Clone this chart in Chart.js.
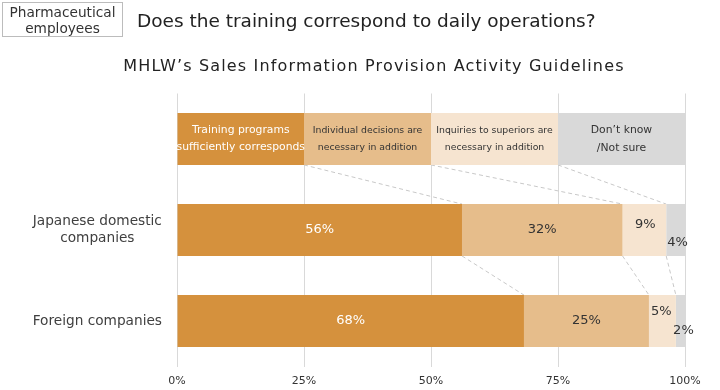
<!DOCTYPE html>
<html>
<head>
<meta charset="utf-8">
<script src="https://cdn.jsdelivr.net/npm/chart.js@4"></script>
<style>
  body { margin: 0; background: #fff; font-family: "DejaVu Sans", sans-serif; }
  .wrap { position: relative; width: 720px; height: 390px; }
  .tag {
    position: absolute; left: 2px; top: 2px; width: 121px; height: 35px;
    border: 1px solid #bcbcbc; font-size: 13.7px; line-height: 16px; color: #333;
    text-align: center; box-sizing: border-box; padding-top: 1px;
  }
  .title { position: absolute; left: 137px; top: 10px; font-size: 18.5px; color: #222; white-space: nowrap; }
  .subtitle { position: absolute; left: 0; width: 748px; top: 56px; font-size: 16px; letter-spacing: 1.15px; color: #222; text-align: center; white-space: nowrap; }
  canvas { position: absolute; left: 0; top: 0; }
</style>
</head>
<body>
<div class="wrap">
  <canvas id="myChart" width="720" height="390"></canvas>
  <div class="tag">Pharmaceutical<br>employees</div>
  <div class="title">Does the training correspond to daily operations?</div>
  <div class="subtitle">MHLW’s Sales Information Provision Activity Guidelines</div>
</div>
<script>
const categories = ['', ['Japanese domestic', 'companies'], 'Foreign companies'];
const seriesNames = [
  ['Training programs', 'sufficiently corresponds'],
  ['Individual decisions are', 'necessary in addition'],
  ['Inquiries to superiors are', 'necessary in addition'],
  ['Don’t know', '/Not sure'],
];
const sufficient = [25, 56.1, 68.3];
const individual = [25, 31.6, 24.6];
const inquiries = [25, 8.6, 5.3];
const dontKnow = [25, 3.7, 1.8];
const xTicks = [0, 25, 50, 75, 100];

const colors = ['#D5913D', '#E6BD8B', '#F6E4D0', '#D9D9D9'];
const textColors = ['#ffffff', '#333333', '#333333', '#333333'];
const FONT = '"DejaVu Sans", sans-serif';

// nudges for the labels of the narrow segments [row][dataset] -> [dx, dy]
const labelShift = {
  '1-2': [1, -5], '1-3': [2, 13],
  '2-2': [-1, -9], '2-3': [3, 10],
};

const labelPlugin = {
  id: 'segLabels',
  afterDatasetsDraw(chart) {
    const {ctx} = chart;
    ctx.save();
    ctx.textAlign = 'center';
    ctx.textBaseline = 'middle';
    chart.data.datasets.forEach((ds, di) => {
      const meta = chart.getDatasetMeta(di);
      meta.data.forEach((bar, ri) => {
        const cx = (bar.x + bar.base) / 2;
        ctx.fillStyle = textColors[di];
        if (ri === 0) {
          const lines = seriesNames[di];
          let size = 9.3;
          if (di === 0) size = 10.8;
          if (di === 3) size = 10.8;
          ctx.font = `${size}px ${FONT}`;
          const gap = di === 3 ? 18 : 17;
          ctx.fillText(lines[0], cx, bar.y - gap / 2);
          ctx.fillText(lines[1], cx, bar.y + gap / 2);
        } else {
          const s = labelShift[`${ri}-${di}`] || [0, 0];
          ctx.font = `13px ${FONT}`;
          ctx.fillText(Math.round(ds.data[ri]) + '%', cx + s[0], bar.y + s[1]);
        }
      });
    });
    ctx.restore();
  },
};

const connectorPlugin = {
  id: 'connectors',
  beforeDatasetsDraw(chart) {
    const {ctx} = chart;
    ctx.save();
    ctx.strokeStyle = '#c8c8c8';
    ctx.lineWidth = 1;
    ctx.setLineDash([4, 3]);
    for (let di = 0; di < 3; di++) {
      const meta = chart.getDatasetMeta(di);
      for (let ri = 0; ri < meta.data.length - 1; ri++) {
        const a = meta.data[ri], b = meta.data[ri + 1];
        ctx.beginPath();
        ctx.moveTo(a.x, a.y + a.height / 2);
        ctx.lineTo(b.x, b.y - b.height / 2);
        ctx.stroke();
      }
    }
    ctx.restore();
  },
};

const datasets = [sufficient, individual, inquiries, dontKnow].map((data, i) => ({
  label: seriesNames[i].join(' '),
  data,
  backgroundColor: colors[i],
  borderWidth: 0,
  barPercentage: 0.57,
  categoryPercentage: 1,
}));

new Chart(document.getElementById('myChart'), {
  type: 'bar',
  data: {labels: categories, datasets},
  options: {
    indexAxis: 'y',
    responsive: false,
    animation: false,
    layout: {padding: {top: 93.5, right: 35, left: 0, bottom: 0}},
    plugins: {legend: {display: false}, tooltip: {enabled: false}},
    scales: {
      x: {
        stacked: true,
        min: 0,
        max: 100,
        afterBuildTicks(scale) { scale.ticks = xTicks.map(v => ({value: v})); },
        afterFit(scale) { scale.height = 23.5; },
        grid: {color: '#d9d9d9', drawTicks: false},
        border: {display: false},
        ticks: {
          padding: 8,
          color: '#333',
          font: {family: FONT, size: 11},
          callback: v => v + '%',
        },
      },
      y: {
        stacked: true,
        afterFit(scale) { scale.width = 177; },
        grid: {display: false},
        border: {display: false},
        ticks: {
          padding: 7,
          crossAlign: 'center',
          color: '#404040',
          font: {family: FONT, size: 13.7},
        },
      },
    },
  },
  plugins: [connectorPlugin, labelPlugin],
});
</script>
</body>
</html>
